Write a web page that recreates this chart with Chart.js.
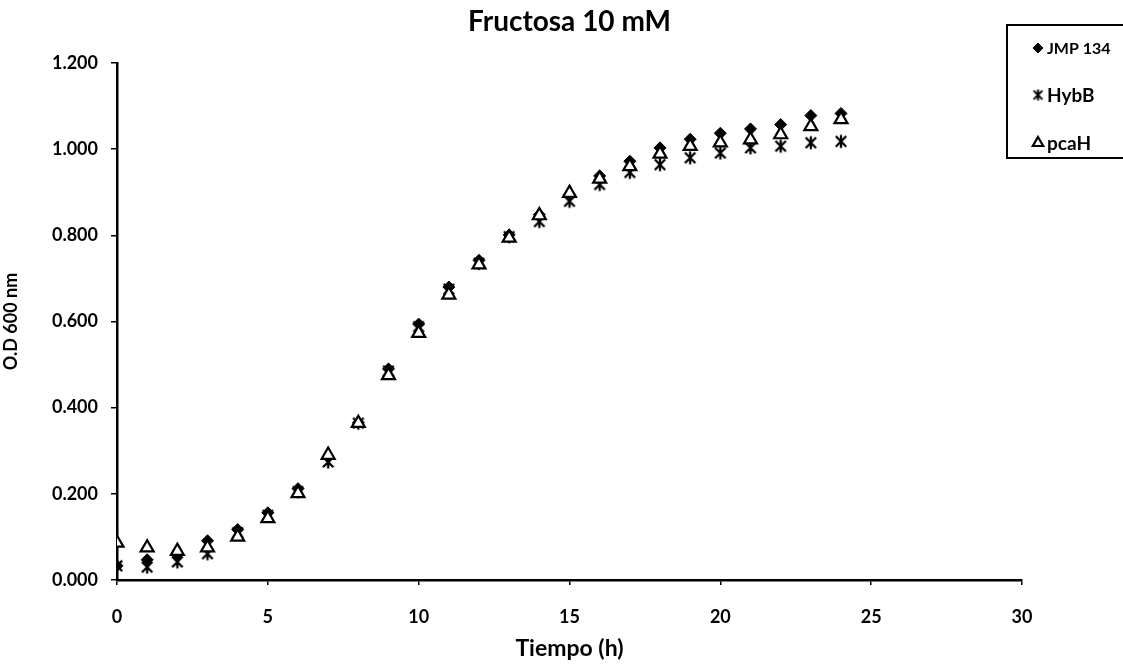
<!DOCTYPE html>
<html>
<head>
<meta charset="utf-8">
<title>Fructosa 10 mM</title>
<script src="https://cdn.jsdelivr.net/npm/chart.js@4.4.1/dist/chart.umd.min.js"></script>
<style>
    html, body { margin: 0; padding: 0; background: #fff; }
    #growth { display: block; }
</style>
</head>
<body>
<canvas id="growth" width="1123" height="669"></canvas>
<script>
// hours
var tiempo = [0, 1, 2, 3, 4, 5, 6, 7, 8, 9, 10, 11, 12, 13, 14, 15, 16, 17, 18, 19, 20, 21, 22, 23, 24];

// O.D 600 nm per strain
var jmp134 = [0.033, 0.047, 0.058, 0.091, 0.117, 0.156, 0.212, 0.285, 0.365, 0.490, 0.594, 0.680, 0.742,
    0.801, 0.848, 0.894, 0.938, 0.972, 1.003, 1.023, 1.037, 1.047, 1.057, 1.078, 1.083];
var hybB = [0.033, 0.030, 0.042, 0.061, 0.110, 0.150, 0.205, 0.274, 0.364, 0.485, 0.588, 0.675, 0.735,
    0.797, 0.832, 0.879, 0.918, 0.946, 0.964, 0.980, 0.991, 1.003, 1.007, 1.015, 1.018];
var pcaH = [0.086, 0.075, 0.067, 0.075, 0.100, 0.143, 0.201, 0.290, 0.364, 0.475, 0.573, 0.662, 0.732,
    0.794, 0.846, 0.898, 0.931, 0.960, 0.989, 1.007, 1.015, 1.022, 1.034, 1.053, 1.069];

var seriesLabels = ['JMP 134', 'HybB', 'pcaH'];
var xTicks = [0, 5, 10, 15, 20, 25, 30];
var yTicks = [0, 0.2, 0.4, 0.6, 0.8, 1.0, 1.2];
var chartTitle = 'Fructosa 10 mM';

var fontFamily = 'Lato, "Open Sans", sans-serif';

function toPoints(values) {
    var points = [];
    tiempo.forEach(function (t, i) {
        points.push({ x: t, y: values[i] });
    });
    return points;
}

// excel style asterisk: one upright stroke crossed by an X
function makeAsterisk(r, lw) {
    var c = document.createElement('canvas');
    var s = Math.ceil(r * 2 + lw * 2);
    c.width = s;
    c.height = s;
    var g = c.getContext('2d');
    var m = s / 2;
    var d = r * 0.8;
    g.strokeStyle = '#000';
    g.lineWidth = lw;
    g.beginPath();
    g.moveTo(m, m - r); g.lineTo(m, m + r);
    g.moveTo(m - d, m - d); g.lineTo(m + d, m + d);
    g.moveTo(m + d, m - d); g.lineTo(m - d, m + d);
    g.stroke();
    return c;
}

var markerStyles = [
    { pointStyle: 'rectRot', legendStyle: 'rectRot', radius: 6, fill: '#000', borderWidth: 1, legendRadius: 5, legendFont: 16 },
    { pointStyle: makeAsterisk(6.5, 2.3), legendStyle: makeAsterisk(5.5, 2), radius: 6, fill: '#000', borderWidth: 1.6, legendRadius: 5, legendFont: 19 },
    { pointStyle: 'triangle', legendStyle: 'triangle', radius: 7.5, fill: '#fff', borderWidth: 2.2, legendRadius: 6, legendFont: 19 }
];

// title centred on the plot area and the boxed legend over the top right corner
var sheetDecor = {
    id: 'sheetDecor',
    afterDraw: function (chart) {
        var ctx = chart.ctx;
        var area = chart.chartArea;
        ctx.save();

        ctx.fillStyle = '#000';
        ctx.font = 'bold 28px ' + fontFamily;
        ctx.textAlign = 'center';
        ctx.textBaseline = 'middle';
        ctx.fillText(chartTitle, (area.left + area.right) / 2, 22);

        var left = 1007, top = 25, bottom = 158;
        ctx.strokeStyle = '#000';
        ctx.lineWidth = 2;
        ctx.strokeRect(left, top, 1123 - left + 5, bottom - top);

        var rows = [48, 95, 143];
        seriesLabels.forEach(function (label, i) {
            var st = markerStyles[i];
            ctx.fillStyle = st.fill;
            ctx.strokeStyle = '#000';
            ctx.lineWidth = st.borderWidth;
            Chart.helpers.drawPoint(ctx, {
                pointStyle: st.legendStyle,
                radius: st.legendRadius,
                rotation: 0,
                borderWidth: st.borderWidth
            }, 1038, rows[i]);

            ctx.fillStyle = '#000';
            ctx.font = 'bold ' + st.legendFont + 'px ' + fontFamily;
            ctx.textBaseline = 'middle';
            ctx.textAlign = 'left';
            ctx.fillText(label, 1047, rows[i] + 1);
        });
        ctx.restore();
    }
};

function createGrowthChart() {
    var canvas = document.getElementById('growth');
    var allSeries = [jmp134, hybB, pcaH];
    var datasets = [];

    allSeries.forEach(function (values, i) {
        var st = markerStyles[i];
        datasets.push({
            label: seriesLabels[i],
            data: toPoints(values),
            showLine: false,
            pointStyle: st.pointStyle,
            pointRadius: st.radius,
            pointHoverRadius: st.radius,
            pointBackgroundColor: st.fill,
            pointBorderColor: '#000',
            pointBorderWidth: st.borderWidth,
            // pcaH ends up on top, as in the sheet
            order: 2 - i
        });
    });

    new Chart(canvas.getContext('2d'), {
        type: 'scatter',
        data: { datasets: datasets },
        options: {
            responsive: false,
            animation: false,
            events: [],
            layout: { padding: { left: 0, right: 101, top: 63, bottom: 0 } },
            plugins: {
                legend: { display: false },
                tooltip: { enabled: false },
                title: { display: false }
            },
            scales: {
                x: {
                    type: 'linear',
                    min: 0,
                    max: 30,
                    afterFit: function (scale) { scale.height = 89; },
                    afterBuildTicks: function (scale) {
                        scale.ticks = xTicks.map(function (v) { return { value: v }; });
                    },
                    border: { display: true, color: '#000', width: 2.5 },
                    grid: { display: true, drawOnChartArea: false, drawTicks: true, tickLength: 5, color: '#000', lineWidth: 1.5 },
                    ticks: {
                        color: '#000',
                        padding: 21,
                        maxRotation: 0,
                        font: { family: fontFamily, size: 18, weight: 'bold' }
                    },
                    title: {
                        display: true,
                        text: 'Tiempo (h)',
                        color: '#000',
                        font: { family: fontFamily, size: 23, weight: 'bold' },
                        padding: { top: 0, bottom: 7 }
                    }
                },
                y: {
                    type: 'linear',
                    min: 0,
                    max: 1.2,
                    afterFit: function (scale) { scale.width = 117; },
                    afterBuildTicks: function (scale) {
                        scale.ticks = yTicks.map(function (v) { return { value: v }; });
                    },
                    border: { display: true, color: '#000', width: 2.5 },
                    grid: { display: true, drawOnChartArea: false, drawTicks: true, tickLength: 6, color: '#000', lineWidth: 1.5 },
                    ticks: {
                        color: '#000',
                        padding: 13,
                        font: { family: fontFamily, size: 18, weight: 'bold' },
                        callback: function (value) { return Number(value).toFixed(3); }
                    },
                    title: {
                        display: true,
                        text: 'O.D 600 nm',
                        color: '#000',
                        font: { family: fontFamily, size: 18, weight: 'bold' },
                        padding: { top: 0, bottom: 14 }
                    }
                }
            }
        },
        plugins: [sheetDecor]
    });
}

createGrowthChart();
</script>
</body>
</html>
